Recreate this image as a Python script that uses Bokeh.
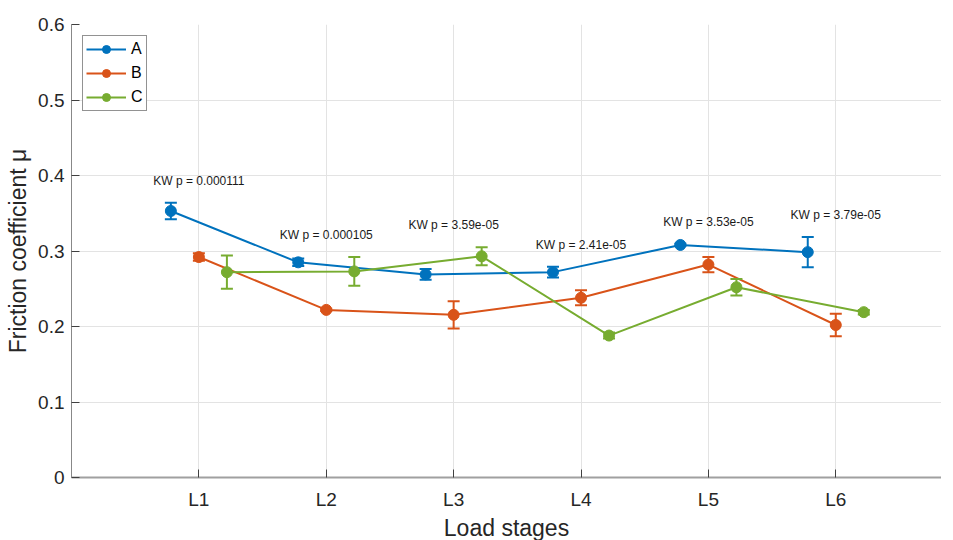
from bokeh.plotting import figure
from bokeh.models import Range1d, FixedTicker, Legend, LegendItem, ColumnDataSource
from bokeh.core.properties import value
from bokeh.embed import file_html
from bokeh.resources import INLINE

# ---- data -------------------------------------------------------------
stages = ["L1", "L2", "L3", "L4", "L5", "L6"]
series_names = ["A", "B", "C"]
a_mean = [0.353, 0.285, 0.269, 0.272, 0.308, 0.2985]
a_err = [0.011, 0.005, 0.007, 0.007, 0.0015, 0.020]
b_mean = [0.292, 0.222, 0.2155, 0.238, 0.282, 0.202]
b_err = [0.005, 0.0015, 0.018, 0.010, 0.010, 0.015]
c_mean = [0.272, 0.273, 0.293, 0.188, 0.252, 0.219]
c_err = [0.022, 0.019, 0.012, 0.004, 0.011, 0.003]
kw_p = ["0.000111", "0.000105", "3.59e-05", "2.41e-05", "3.53e-05", "3.79e-05"]
y_ticks = [0, 0.1, 0.2, 0.3, 0.4, 0.5, 0.6]
y_tick_labels = ["0", "0.1", "0.2", "0.3", "0.4", "0.5", "0.6"]

colors = ["#0072BD", "#D95319", "#77AC30"]
offsets = [-0.22, 0.0, 0.22]
FONT = "Liberation Sans"

p = figure(frame_width=870, frame_height=453,
           x_range=Range1d(0, 6.83), y_range=Range1d(0, 0.6),
           output_backend="svg", toolbar_location=None,
           min_border_left=71, min_border_right=0,
           min_border_top=24, min_border_bottom=60)
p.outline_line_color = None
p.background_fill_color = "white"

stage_pos = [i + 1 for i in range(len(stages))]

# axes
p.xaxis.ticker = FixedTicker(ticks=stage_pos)
p.xaxis.major_label_overrides = {pos: s for pos, s in zip(stage_pos, stages)}
p.yaxis.ticker = FixedTicker(ticks=y_ticks)
p.yaxis.major_label_overrides = {t: l for t, l in zip(y_ticks, y_tick_labels)}
p.xaxis.minor_tick_line_color = None
p.yaxis.minor_tick_line_color = None
for ax in (p.xaxis, p.yaxis):
    ax.major_tick_in = 8
    ax.major_tick_out = 0
    ax.major_tick_line_color = "#404040"
    ax.major_label_text_font = FONT
    ax.major_label_text_font_size = "19px"
    ax.major_label_text_color = "#262626"
    ax.axis_label_text_font = FONT
    ax.axis_label_text_font_size = "23px"
    ax.axis_label_text_font_style = "normal"
    ax.axis_label_text_color = "#262626"
p.xaxis.axis_line_color = "#a0a0a0"
p.xaxis.axis_line_width = 2
p.yaxis.axis_line_color = "#888888"
p.yaxis.axis_line_width = 1
p.xaxis.major_label_standoff = 11
p.yaxis.major_label_standoff = 7
p.xaxis.axis_label = "Load stages"
p.yaxis.axis_label = "Friction coefficient μ"
p.xaxis.axis_label_standoff = 2
p.yaxis.axis_label_standoff = 4

# grid
p.xgrid.ticker = FixedTicker(ticks=stage_pos)
p.ygrid.ticker = FixedTicker(ticks=y_ticks)
p.xgrid.grid_line_color = "#e3e3e3"
p.ygrid.grid_line_color = "#e3e3e3"

# series
items = []
for name, mean, err, col, off in zip(series_names, [a_mean, b_mean, c_mean],
                                     [a_err, b_err, c_err], colors, offsets):
    xs = [pos + off for pos in stage_pos]
    src = ColumnDataSource(dict(
        x=xs, y=mean,
        lo=[m - e for m, e in zip(mean, err)],
        hi=[m + e for m, e in zip(mean, err)],
    ))
    ln = p.line("x", "y", source=src, line_color=col, line_width=2)
    p.segment(x0="x", y0="lo", x1="x", y1="hi", source=src, line_color=col, line_width=2)
    p.scatter("x", "lo", source=src, marker="dash", size=12, line_color=col, line_width=2)
    p.scatter("x", "hi", source=src, marker="dash", size=12, line_color=col, line_width=2)
    mk = p.scatter("x", "y", source=src, marker="circle", size=11,
                   fill_color=col, line_color=col, line_width=1)
    items.append(LegendItem(label=name, renderers=[ln, mk]))

# KW annotations above the highest error bar of each stage
tops = [max(a + ae, b + be, c + ce) for a, ae, b, be, c, ce in
        zip(a_mean, a_err, b_mean, b_err, c_mean, c_err)]
ann = ColumnDataSource(dict(
    x=stage_pos,
    y=[t + 0.029 for t in tops],
    text=["KW p = " + s for s in kw_p],
))
p.text("x", "y", text="text", source=ann, text_align="center", text_baseline="middle",
       text_font=value(FONT), text_font_size="12px", text_color="#1a1a1a")

legend = Legend(items=items, location="top_left", margin=11, padding=3, spacing=4,
                glyph_width=40, glyph_height=20, label_height=20, label_width=10,
                label_standoff=5,
                label_text_font=FONT, label_text_font_size="16px",
                label_text_color="#000000",
                border_line_color="#262626", border_line_width=1,
                background_fill_color="white", background_fill_alpha=1.0)
p.add_layout(legend)

open("out.html", "w").write(file_html(p, INLINE))
